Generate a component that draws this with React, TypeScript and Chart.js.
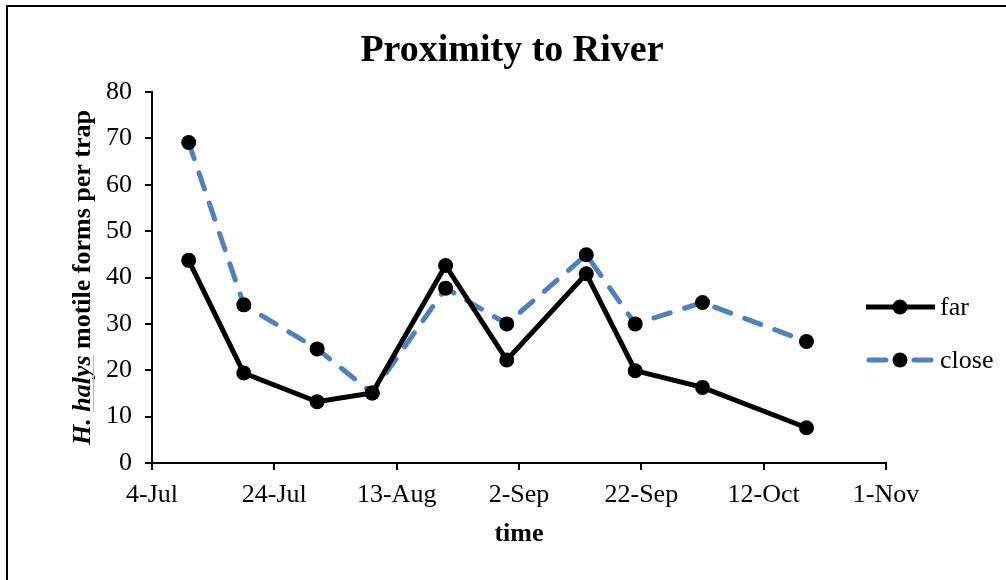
import React, { useEffect, useRef } from "react";
import { Chart, registerables } from "chart.js";

Chart.register(...registerables);

// Tick labels of the time axis (every 20 days from 4-Jul)
const timeTickLabels = ["4-Jul", "24-Jul", "13-Aug", "2-Sep", "22-Sep", "12-Oct", "1-Nov"];
const timeTickStep = 20;
// Sampling dates, as days after 4-Jul (10-Jul, 19-Jul, 31-Jul, 9-Aug, 21-Aug, 31-Aug, 13-Sep, 21-Sep, 2-Oct, 19-Oct)
const sampleDays = [6, 15, 27, 36, 48, 58, 71, 79, 90, 107];
const farValues = [43.7, 19.4, 13.2, 15.1, 42.6, 22.2, 40.8, 19.9, 16.3, 7.6];
const closeValues = [69.1, 34.1, 24.6, 15.1, 37.7, 30.0, 44.9, 30.0, 34.6, 26.2];
const seriesNames = ["far", "close"];

const chartTitle = "Proximity to River";
const yTitleItalic = "H. halys";
const yTitleRest = " motile forms per trap";
const xTitle = "time";

const SERIF = "'Liberation Serif', 'Times New Roman', serif";
const BLUE = "#4F81BD";
const TEXT_SIZE = 26;

const decorPlugin = {
  id: "decor",
  afterDraw(chart: any) {
    const ctx = chart.ctx as CanvasRenderingContext2D;
    const area = chart.chartArea;
    ctx.save();
    // outer frame (left and top edges visible)
    ctx.strokeStyle = "#000";
    ctx.lineWidth = 2;
    ctx.beginPath();
    ctx.moveTo(7, chart.height);
    ctx.lineTo(7, 6);
    ctx.lineTo(chart.width, 6);
    ctx.stroke();

    // title
    ctx.fillStyle = "#000";
    ctx.font = `bold 38px ${SERIF}`;
    ctx.textAlign = "center";
    ctx.textBaseline = "alphabetic";
    ctx.fillText(chartTitle, 512, 61);

    // x title
    ctx.font = `bold ${TEXT_SIZE}px ${SERIF}`;
    ctx.fillText(xTitle, (area.left + area.right) / 2, 541);

    // y title (rotated, mixed styles)
    const cy = (area.top + area.bottom) / 2;
    ctx.translate(90, cy);
    ctx.rotate(-Math.PI / 2);
    ctx.textAlign = "left";
    ctx.font = `italic bold ${TEXT_SIZE}px ${SERIF}`;
    const w1 = ctx.measureText(yTitleItalic).width;
    ctx.font = `bold ${TEXT_SIZE}px ${SERIF}`;
    const w2 = ctx.measureText(yTitleRest).width;
    const start = -(w1 + w2) / 2;
    ctx.font = `italic bold ${TEXT_SIZE}px ${SERIF}`;
    ctx.fillText(yTitleItalic, start, 0);
    const wH = ctx.measureText("H. ").width;
    ctx.strokeStyle = "#e8a0a0";
    ctx.lineWidth = 1;
    ctx.beginPath();
    ctx.moveTo(start + wH, 3.5);
    ctx.lineTo(start + w1, 3.5);
    ctx.stroke();
    ctx.font = `bold ${TEXT_SIZE}px ${SERIF}`;
    ctx.fillText(yTitleRest, start + w1, 0);
    ctx.setTransform(1, 0, 0, 1, 0, 0);

    // legend
    const legendY = [307, 360];
    chart.data.datasets.forEach((ds: any, i: number) => {
      const y = legendY[i];
      ctx.strokeStyle = ds.borderColor;
      ctx.lineWidth = ds.borderWidth;
      ctx.lineCap = i === 1 ? "round" : "butt";
      ctx.beginPath();
      if (i === 1) {
        ctx.moveTo(869, y);
        ctx.lineTo(886, y);
        ctx.moveTo(914, y);
        ctx.lineTo(931, y);
      } else {
        ctx.moveTo(866, y);
        ctx.lineTo(935, y);
      }
      ctx.stroke();
      ctx.fillStyle = "#000";
      ctx.beginPath();
      ctx.arc(900, y, 7.5, 0, Math.PI * 2);
      ctx.fill();
      ctx.font = `${TEXT_SIZE}px ${SERIF}`;
      ctx.textAlign = "left";
      ctx.textBaseline = "middle";
      ctx.fillText(ds.label, 940, y + 1);
    });
    ctx.restore();
  },
};

export default function App() {
  const ref = useRef<HTMLCanvasElement | null>(null);
  useEffect(() => {
    document.body.style.margin = "0";
    const canvas = ref.current!;
    const far = sampleDays.map((d, i) => ({ x: d, y: farValues[i] }));
    const close = sampleDays.map((d, i) => ({ x: d, y: closeValues[i] }));
    const chart = new Chart(canvas, {
      type: "line",
      data: {
        datasets: [
          {
            label: seriesNames[0],
            data: far,
            borderColor: "#000",
            backgroundColor: "#000",
            borderWidth: 5,
            pointRadius: 7.5,
            pointBackgroundColor: "#000",
            pointBorderWidth: 0,
            tension: 0,
            order: 1,
          },
          {
            label: seriesNames[1],
            data: close,
            borderColor: BLUE,
            backgroundColor: "#000",
            borderWidth: 5,
            borderDash: [17, 15],
            borderCapStyle: "round",
            pointRadius: 7.5,
            pointBackgroundColor: "#000",
            pointBorderWidth: 0,
            tension: 0,
            order: 2,
          },
        ],
      },
      plugins: [decorPlugin],
      options: {
        animation: false,
        responsive: false,
        devicePixelRatio: 1,
        layout: { padding: { left: 92, top: 92, right: 120, bottom: 67 } },
        plugins: {
          legend: { display: false },
          title: { display: false },
          tooltip: { enabled: false },
        },
        scales: {
          x: {
            type: "linear",
            min: 0,
            max: (timeTickLabels.length - 1) * timeTickStep,
            afterFit: (s: any) => {
              s.height = 50;
            },
            afterBuildTicks: (s: any) => {
              s.ticks = timeTickLabels.map((_, i) => ({ value: i * timeTickStep }));
            },
            ticks: {
              font: { family: SERIF, size: TEXT_SIZE },
              color: "#000",
              padding: 10,
              maxRotation: 0,
              autoSkip: false,
              callback: (v: any) => timeTickLabels[Math.round(Number(v) / timeTickStep)] ?? "",
            },
            grid: {
              display: true,
              drawOnChartArea: false,
              drawTicks: true,
              tickLength: 7,
              color: "#000",
              lineWidth: 2,
            },
            border: { display: true, color: "#000", width: 2 },
          },
          y: {
            min: 0,
            max: 80,
            afterFit: (s: any) => {
              s.width = 60;
            },
            ticks: {
              stepSize: 10,
              font: { family: SERIF, size: TEXT_SIZE },
              color: "#000",
              padding: 13,
            },
            grid: {
              display: true,
              drawOnChartArea: false,
              drawTicks: true,
              tickLength: 7,
              color: "#000",
              lineWidth: 2,
            },
            border: { display: true, color: "#000", width: 2 },
          },
        },
      },
    } as any);
    return () => chart.destroy();
  }, []);
  return (
    <div style={{ position: "absolute", left: 0, top: 0 }}>
      <canvas ref={ref} width={1006} height={580} style={{ display: "block", width: 1006, height: 580 }} />
    </div>
  );
}
